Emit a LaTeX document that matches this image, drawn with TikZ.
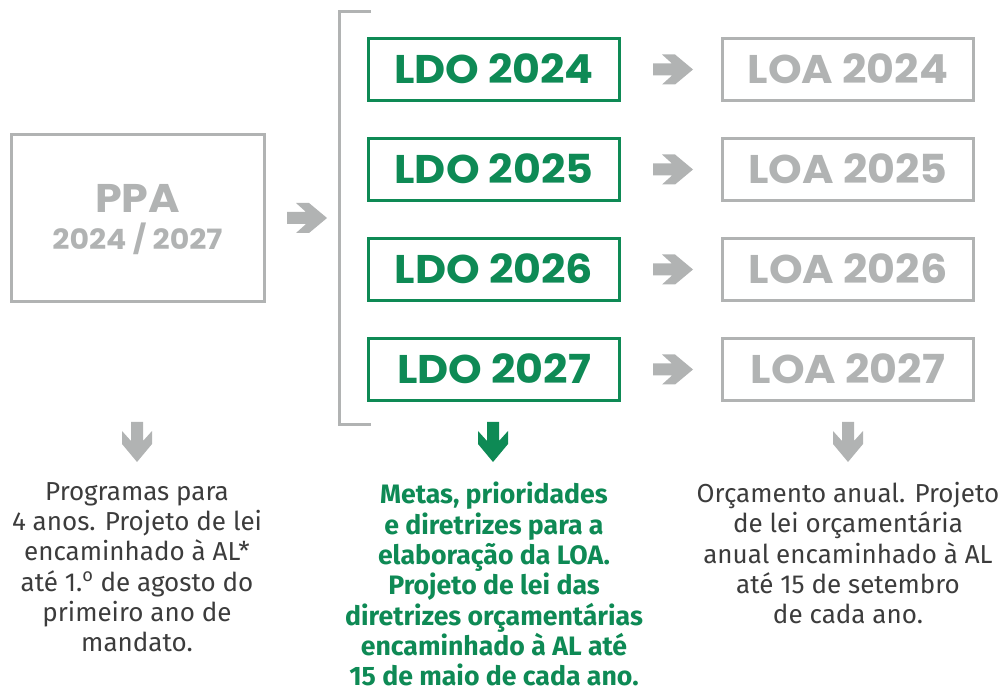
\documentclass[tikz,border=0pt]{standalone}
\usepackage{fontspec}
\usetikzlibrary{calc}
\setmainfont{Fira Sans}
\newfontfamily\popfont{Poppins}[FakeStretch=1.07]
\definecolor{lgray}{HTML}{B1B3B3}
\definecolor{dgreen}{HTML}{0E8A55}
\definecolor{dtext}{HTML}{3C3C3C}
\tikzset{
  ldobox/.style={draw=dgreen, line width=2.25pt, minimum width=188.25pt, minimum height=46.5pt,
    inner sep=0pt, text height=21pt, text depth=0pt, text=dgreen, font=\popfont\bfseries\fontsize{30}{30}\selectfont},
  loabox/.style={ldobox, draw=lgray, text=lgray},
  ppabox/.style={draw=lgray, line width=2.25pt, minimum width=189.75pt, minimum height=125.25pt, inner sep=0pt},
  ppalabel/.style={text=lgray, inner sep=0pt, anchor=base, font=\popfont\bfseries},
  desc/.style={align=center, anchor=north, inner sep=0pt, font=\fontsize{19.5}{22.75}\selectfont},
  bracket/.style={draw=lgray, line width=2.25pt},
  blockarrow/.pic={\fill (-20,-6) -- (-1,-6) -- (-11,-15) -- (2,-15) -- (20,0) -- (2,15) -- (-11,15) -- (-1,6) -- (-20,6) -- cycle;}
}
\begin{document}
\begin{tikzpicture}[x=0.75pt, y=-0.75pt]
\useasboundingbox (0,0) rectangle (1003,691);
% PPA
\node[ppabox] (ppa) at (137.5,218) {};
\node[ppalabel, font=\popfont\bfseries\fontsize{30}{30}\selectfont] (ppat) at (137.5,213) {PPA};
\node[ppalabel, font=\popfont\bfseries\fontsize{21}{21}\selectfont] (ppay) at (137.5,250) {2024 / 2027};
\pic[color=lgray] at (307,218) {blockarrow};
% bracket
\coordinate (bt) at (371,12);
\coordinate (bb) at (371,425);
\draw[bracket] (bt) -- ++(-32,0) |- (bb);
% LDO and LOA
\foreach \i/\y in {4/69.5,5/169.5,6/269.5,7/369.5}{
  \node[ldobox] (ldo\i) at (494,\y) {LDO 202\i};
  \node[loabox] (loa\i) at (848,\y) {LOA 202\i};
  \pic[color=lgray] at ($(ldo\i.east)!0.52!(loa\i.west)$) {blockarrow};
}
% down arrows
\pic[color=lgray, rotate=-90] at (137,442) {blockarrow};
\pic[color=dgreen, rotate=-90] at (493,442) {blockarrow};
\pic[color=lgray, rotate=-90] at (848,442) {blockarrow};
% descriptions
\node[desc, text=dtext] (dppa) at (137,482) {Programas para\\4 anos. Projeto de lei\\encaminhado à AL*\\até 1.\textsuperscript{o} de agosto do\\primeiro ano de\\mandato.};
\node[desc, text=dgreen, font=\bfseries\fontsize{20}{22.75}\selectfont] (dldo) at (494,482) {Metas, prioridades\\e diretrizes para a\\elaboração da LOA.\\Projeto de lei das\\diretrizes orçamentárias\\encaminhado à AL até\\15 de maio de cada ano.};
\node[desc, text=dtext] (dloa) at (848,482) {Orçamento anual. Projeto\\de lei orçamentária\\anual encaminhado à AL\\até 15 de setembro\\de cada ano.};
\end{tikzpicture}
\end{document}
